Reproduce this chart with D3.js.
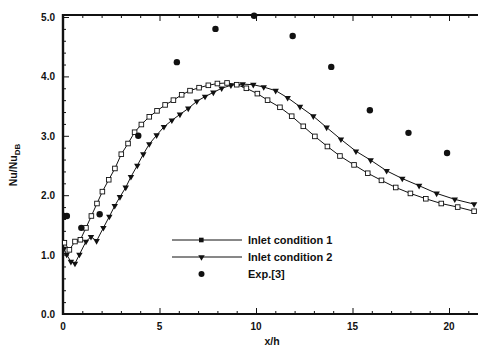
<!DOCTYPE html>
<html>
<head>
<meta charset="utf-8">
<script src="https://cdn.jsdelivr.net/npm/d3@7"></script>
<style>
  html, body { margin: 0; padding: 0; background: #fff; overflow: hidden; }
  text { font-family: "Liberation Sans", Arial, sans-serif; font-weight: bold; fill: #111; }
</style>
</head>
<body>
<div id="chart"></div>
<script>
// Inlet condition 1 (open squares)
var case1X = [0.07, 0.33, 0.62, 0.9, 1.19, 1.47, 1.76, 2.04, 2.37, 2.69, 3.02, 3.37, 3.71, 4.06, 4.47, 4.87,
              5.29, 5.72, 6.15, 6.58, 7.05, 7.53, 8.0, 8.5, 9.0, 9.5, 10.07, 10.6, 11.24, 11.85, 12.45,
              13.05, 13.7, 14.35, 15.08, 15.79, 16.5, 17.24, 18.0, 18.8, 19.6, 20.45, 21.3];
var case1Y = [1.2, 1.08, 1.22, 1.25, 1.45, 1.65, 1.86, 2.06, 2.26, 2.45, 2.69, 2.87, 3.06, 3.19, 3.32, 3.42,
              3.52, 3.6, 3.69, 3.76, 3.81, 3.85, 3.88, 3.89, 3.86, 3.8, 3.71, 3.6, 3.48, 3.33, 3.16,
              2.99, 2.82, 2.66, 2.51, 2.37, 2.25, 2.13, 2.03, 1.94, 1.86, 1.8, 1.73];

// Inlet condition 2 (filled triangles)
var case2X = [0.05, 0.19, 0.41, 0.62, 0.85, 1.19, 1.45, 1.74, 2.09, 2.4, 2.68, 2.95, 3.25, 3.52, 3.85, 4.16,
              4.47, 4.85, 5.23, 5.64, 6.06, 6.49, 6.93, 7.36, 7.79, 8.22, 8.7, 9.31, 9.86, 10.4, 11.02,
              11.64, 12.28, 12.97, 13.66, 14.4, 15.18, 15.94, 16.77, 17.58, 18.45, 19.36, 20.3, 21.3];
var case2Y = [1.1, 1.0, 0.88, 0.85, 1.0, 1.22, 1.3, 1.23, 1.45, 1.64, 1.82, 1.97, 2.13, 2.31, 2.5, 2.69,
              2.86, 3.01, 3.15, 3.26, 3.36, 3.46, 3.58, 3.66, 3.73, 3.8, 3.85, 3.87, 3.86, 3.82, 3.76,
              3.64, 3.49, 3.33, 3.14, 2.94, 2.74, 2.59, 2.41, 2.28, 2.16, 2.03, 1.93, 1.85];

// Exp. [3] (filled circles)
var expX = [0.05, 0.2, 0.95, 1.9, 3.9, 5.9, 7.9, 9.9, 11.9, 13.9, 15.9, 17.9, 19.9];
var expY = [1.65, 1.65, 1.45, 1.68, 3.0, 4.24, 4.8, 5.02, 4.68, 4.16, 3.43, 3.05, 2.71];

var yTicks = [0, 1, 2, 3, 4, 5];
var xTicks = [0, 5, 10, 15, 20];
var legendLabels = ['Inlet condition 1', 'Inlet condition 2', 'Exp.[3]'];

var width = 478, height = 352;
var margin = { left: 63, top: 15, bottom: 38 };

var svg = d3.select('#chart').append('svg')
  .attr('width', width)
  .attr('height', height);

var x = d3.scaleLinear().domain([0, 20]).range([margin.left, 449]);
var y = d3.scaleLinear().domain([0, 5]).range([height - margin.bottom, 17]);
var yTop = y.invert(margin.top);
var xRight = x.invert(width + 20);

// Clip for plotting area
svg.append('clipPath').attr('id', 'plot')
  .append('rect')
  .attr('x', x(0)).attr('y', y(yTop) - 4)
  .attr('width', width - x(0)).attr('height', y(0) - y(yTop) + 4);

// Axes with inward ticks
var gx = svg.append('g').attr('transform', 'translate(0,' + y(0) + ')');
gx.call(d3.axisBottom(x).tickValues(d3.range(0, 22, 1)).tickSize(-3).tickFormat(''));
gx.call(function (g) {
  g.selectAll('.tick line').filter(function (d) { return d % 5 === 0; }).attr('y2', -6);
});
var gxt = svg.append('g').attr('transform', 'translate(0,' + y(yTop) + ')');
gxt.call(d3.axisTop(x).tickValues(d3.range(0, 22, 1)).tickSize(-3).tickFormat(''));
gxt.call(function (g) {
  g.selectAll('.tick line').filter(function (d) { return d % 5 === 0; }).attr('y2', 6);
});

var gy = svg.append('g').attr('transform', 'translate(' + x(0) + ',0)');
gy.call(d3.axisLeft(y).tickValues(d3.range(0, 5.01, 0.2)).tickSize(-3).tickFormat(''));
gy.call(function (g) {
  g.selectAll('.tick line').filter(function (d) { return Math.abs(d - Math.round(d)) < 1e-6; }).attr('x2', 6);
});

svg.selectAll('.domain').remove();
svg.selectAll('.tick line').attr('stroke', '#111').attr('stroke-width', 1);

// Frame lines
svg.append('line').attr('x1', x(0)).attr('x2', width + 5).attr('y1', y(0)).attr('y2', y(0))
  .attr('stroke', '#111').attr('stroke-width', 2.2);
svg.append('line').attr('x1', x(0)).attr('x2', width + 5).attr('y1', y(yTop)).attr('y2', y(yTop))
  .attr('stroke', '#111').attr('stroke-width', 2.2);
svg.append('line').attr('x1', x(0)).attr('x2', x(0)).attr('y1', y(yTop) - 1).attr('y2', y(0) + 1)
  .attr('stroke', '#111').attr('stroke-width', 2.4);

// Tick labels
svg.append('g').selectAll('text').data(yTicks).enter().append('text')
  .attr('x', x(0) - 8).attr('y', function (d) { return y(d) + 4; })
  .attr('text-anchor', 'end').attr('font-size', 10)
  .text(function (d) { return d.toFixed(1); });
svg.append('g').selectAll('text').data(xTicks).enter().append('text')
  .attr('x', function (d) { return x(d); }).attr('y', y(0) + 16)
  .attr('text-anchor', 'middle').attr('font-size', 10)
  .text(function (d) { return d; });

// Axis titles
svg.append('text').attr('x', 272).attr('y', 345).attr('text-anchor', 'middle')
  .attr('font-size', 10.5).text('x/h');
var yl = svg.append('text').attr('transform', 'translate(17,165) rotate(-90)')
  .attr('text-anchor', 'middle').attr('font-size', 10.5);
yl.append('tspan').text('Nu/Nu');
yl.append('tspan').attr('font-size', 8).attr('dy', 3).text('DB');

// Curves
var plot = svg.append('g').attr('clip-path', 'url(#plot)');
var line = d3.line().x(function (d) { return x(d[0]); }).y(function (d) { return y(d[1]); });
var c1 = case1X.map(function (v, i) { return [v, case1Y[i]]; });
var c2 = case2X.map(function (v, i) { return [v, case2Y[i]]; });
var ex = expX.map(function (v, i) { return [v, expY[i]]; });

plot.append('path').datum(c2).attr('d', line).attr('fill', 'none')
  .attr('stroke', '#111').attr('stroke-width', 1);
plot.append('path').datum(c1).attr('d', line).attr('fill', 'none')
  .attr('stroke', '#111').attr('stroke-width', 1);

var tri = d3.symbol().type(d3.symbolTriangle).size(18);
plot.selectAll('.tri').data(c2).enter().append('path')
  .attr('class', 'tri')
  .attr('transform', function (d) { return 'translate(' + x(d[0]) + ',' + y(d[1]) + ') rotate(180)'; })
  .attr('d', tri).attr('fill', '#111');

plot.selectAll('.sq').data(c1).enter().append('rect')
  .attr('class', 'sq')
  .attr('x', function (d) { return x(d[0]) - 2.3; })
  .attr('y', function (d) { return y(d[1]) - 2.3; })
  .attr('width', 4.6).attr('height', 4.6)
  .attr('fill', '#fff').attr('stroke', '#111').attr('stroke-width', 0.9);

plot.selectAll('.exp').data(ex).enter().append('circle')
  .attr('class', 'exp')
  .attr('cx', function (d) { return x(d[0]); })
  .attr('cy', function (d) { return y(d[1]); })
  .attr('r', 3.2).attr('fill', '#111');

// Legend
var legend = svg.append('g').attr('transform', 'translate(172,240)');
legendLabels.forEach(function (label, i) {
  var row = legend.append('g').attr('transform', 'translate(0,' + (i * 17) + ')');
  if (i < 2) {
    row.append('line').attr('x1', 0).attr('x2', 70).attr('y1', 0).attr('y2', 0)
      .attr('stroke', '#111').attr('stroke-width', 1);
  }
  if (i === 0) {
    row.append('rect').attr('x', 27).attr('y', -2.3).attr('width', 4.6).attr('height', 4.6).attr('fill', '#111');
  } else if (i === 1) {
    row.append('path').attr('transform', 'translate(29.5,0) rotate(180)').attr('d', tri).attr('fill', '#111');
  } else {
    row.append('circle').attr('cx', 29.5).attr('cy', 0).attr('r', 3).attr('fill', '#111');
  }
  row.append('text').attr('x', 76).attr('y', 4).attr('font-size', 11).text(label);
});
</script>
</body>
</html>
